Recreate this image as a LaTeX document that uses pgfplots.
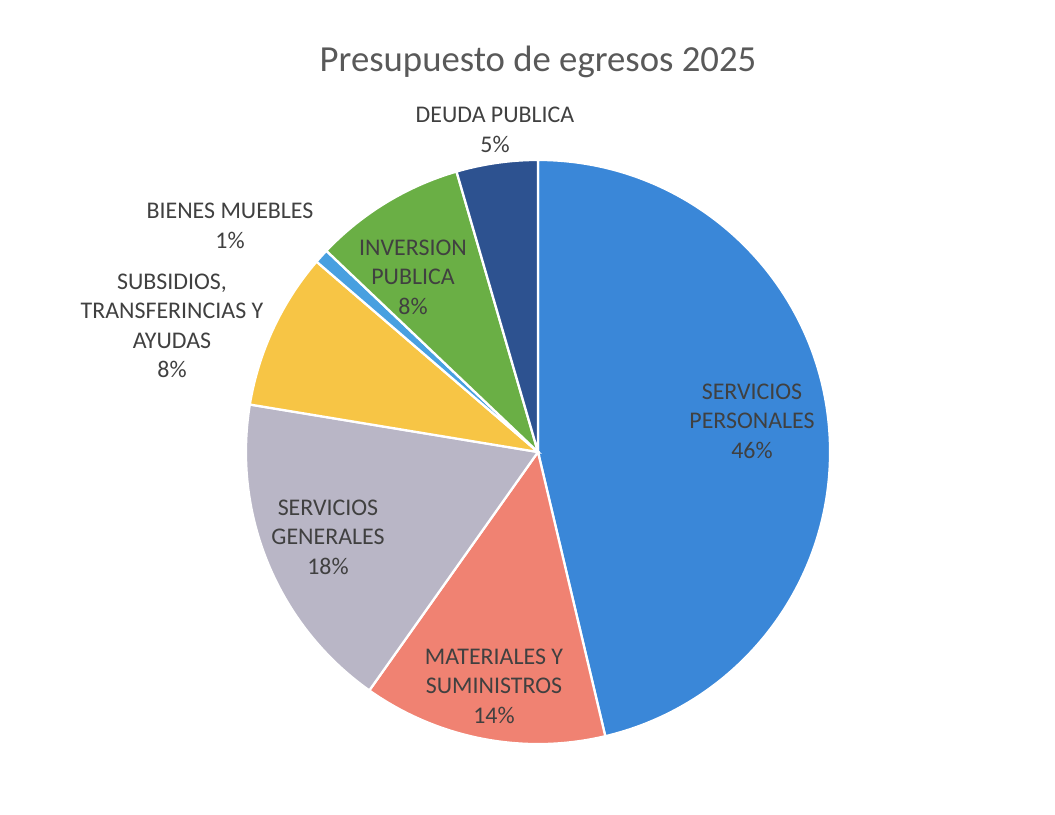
\documentclass[border=0pt]{standalone}
\usepackage{pgfplots}
\pgfplotsset{compat=1.18}
\usepackage{fontspec}
\setmainfont{Carlito}
\definecolor{cSP}{HTML}{3A87D8}
\definecolor{cMA}{HTML}{F08272}
\definecolor{cSG}{HTML}{B9B6C6}
\definecolor{cSU}{HTML}{F7C545}
\definecolor{cBM}{HTML}{48A0E0}
\definecolor{cIN}{HTML}{6AAF45}
\definecolor{cDE}{HTML}{2D5290}
\definecolor{ttl}{HTML}{595959}
\definecolor{lbl}{HTML}{404040}
% shares in percent (clockwise from 12 o'clock)
\def\vSP{46.3}
\def\vMA{13.5}
\def\vSG{17.8}
\def\vSU{8.7}
\def\vBM{0.8}
\def\vIN{8.4}
\def\vDE{4.5}
\begin{document}
\begin{tikzpicture}
\begin{axis}[
  width=21.1cm, height=16.28cm, scale only axis,
  xmin=0, xmax=1055, ymin=0, ymax=814, y dir=reverse,
  hide axis, clip=false]
\addplot[draw=none] coordinates {(0,0) (1055,814)};
\pgfmathsetmacro{\R}{292*0.02}
\pgfmathsetmacro{\aA}{90}
\pgfmathsetmacro{\aB}{90-3.6*\vSP}
\pgfmathsetmacro{\aC}{\aB-3.6*\vMA}
\pgfmathsetmacro{\aD}{\aC-3.6*\vSG}
\pgfmathsetmacro{\aE}{\aD-3.6*\vSU}
\pgfmathsetmacro{\aF}{\aE-3.6*\vBM}
\pgfmathsetmacro{\aG}{\aF-3.6*\vIN}
\pgfmathsetmacro{\aH}{\aG-3.6*\vDE}
\filldraw[fill=cSP, draw=white, line width=1.3pt] (axis cs:538,452) -- ++(\aA:\R cm) arc[start angle=\aA, end angle=\aB, radius=\R cm] -- cycle;
\filldraw[fill=cMA, draw=white, line width=1.3pt] (axis cs:538,452) -- ++(\aB:\R cm) arc[start angle=\aB, end angle=\aC, radius=\R cm] -- cycle;
\filldraw[fill=cSG, draw=white, line width=1.3pt] (axis cs:538,452) -- ++(\aC:\R cm) arc[start angle=\aC, end angle=\aD, radius=\R cm] -- cycle;
\filldraw[fill=cSU, draw=white, line width=1.3pt] (axis cs:538,452) -- ++(\aD:\R cm) arc[start angle=\aD, end angle=\aE, radius=\R cm] -- cycle;
\filldraw[fill=cBM, draw=white, line width=1.3pt] (axis cs:538,452) -- ++(\aE:\R cm) arc[start angle=\aE, end angle=\aF, radius=\R cm] -- cycle;
\filldraw[fill=cIN, draw=white, line width=1.3pt] (axis cs:538,452) -- ++(\aF:\R cm) arc[start angle=\aF, end angle=\aG, radius=\R cm] -- cycle;
\filldraw[fill=cDE, draw=white, line width=1.3pt] (axis cs:538,452) -- ++(\aG:\R cm) arc[start angle=\aG, end angle=\aH, radius=\R cm] -- cycle;
\node[text=ttl, font=\fontsize{20.9}{25}\selectfont] at (axis cs:538,62) {Presupuesto de egresos 2025};
\tikzset{lb/.style={text=lbl, align=center, font=\fontsize{13.6}{16.8}\selectfont}}
\node[lb] at (axis cs:495,130) {DEUDA PUBLICA\\5\%};
\node[lb] at (axis cs:230,226) {BIENES MUEBLES\\1\%};
\node[lb] at (axis cs:172,326) {SUBSIDIOS,\\TRANSFERINCIAS Y\\AYUDAS\\8\%};
\node[lb] at (axis cs:413,277) {INVERSION\\PUBLICA\\8\%};
\node[lb] at (axis cs:752,421) {SERVICIOS\\PERSONALES\\46\%};
\node[lb] at (axis cs:328,537) {SERVICIOS\\GENERALES\\18\%};
\node[lb] at (axis cs:494,686) {MATERIALES Y\\SUMINISTROS\\14\%};
\end{axis}
\end{tikzpicture}
\end{document}
